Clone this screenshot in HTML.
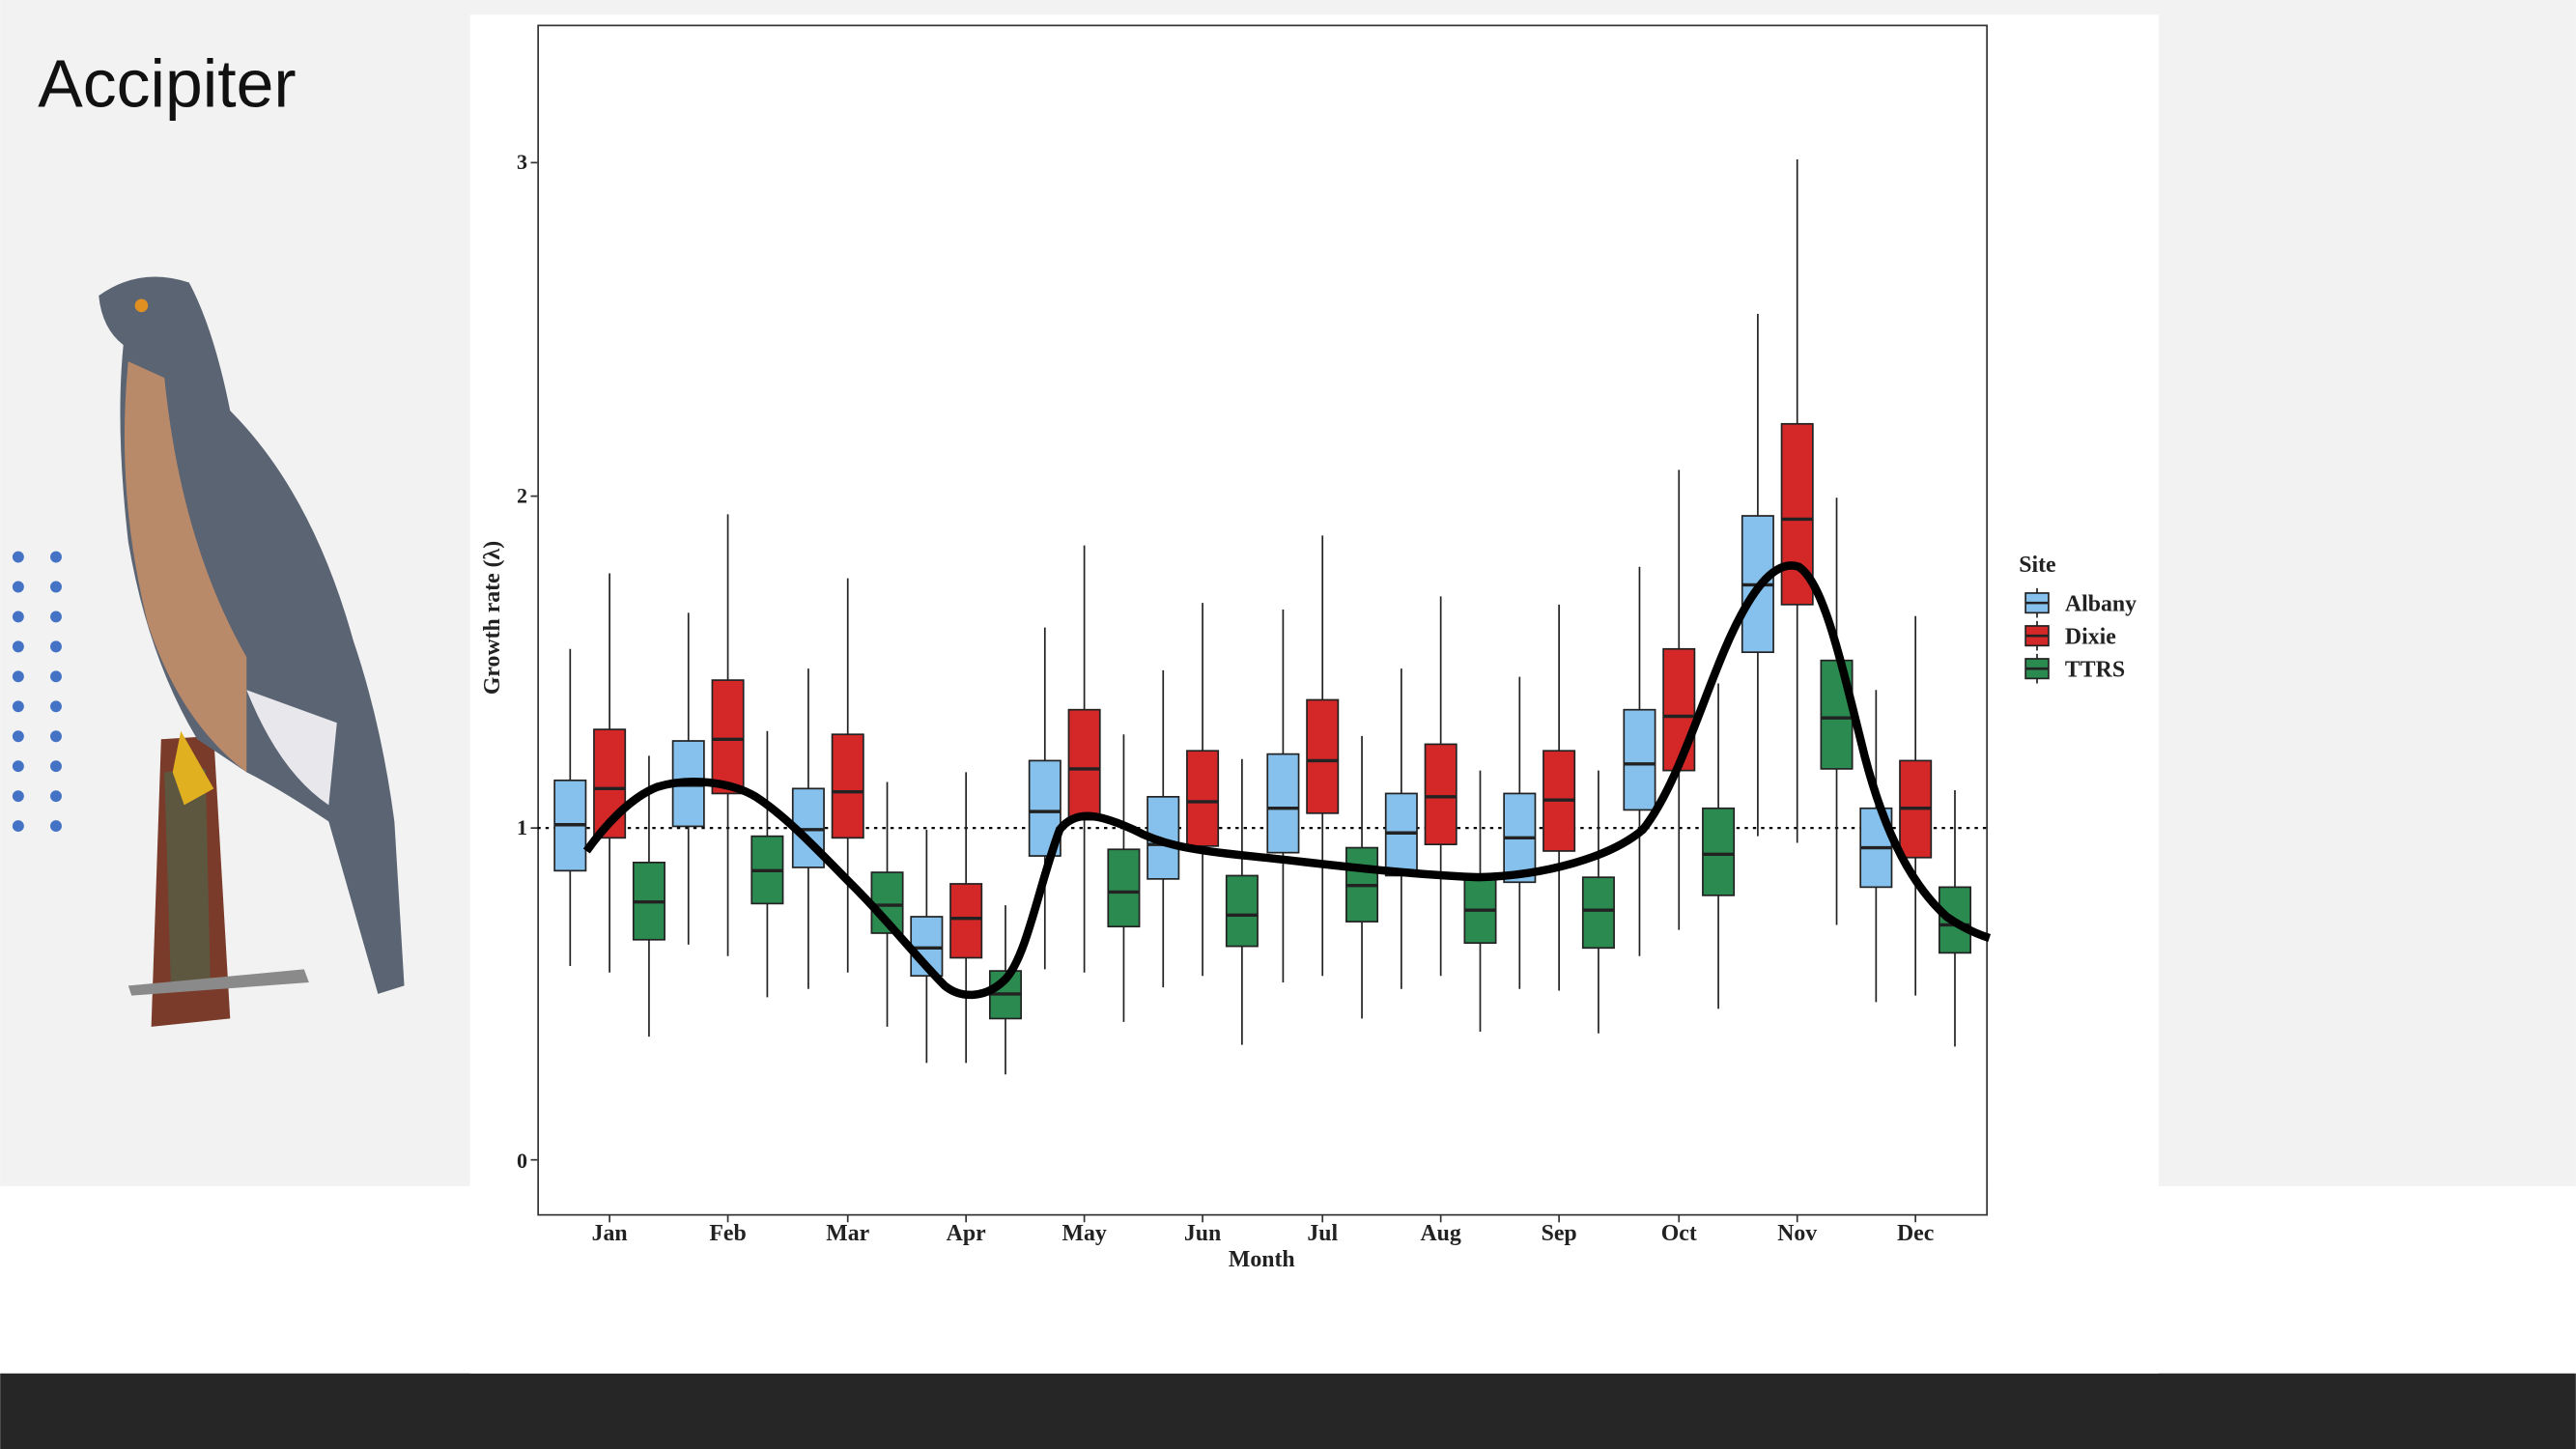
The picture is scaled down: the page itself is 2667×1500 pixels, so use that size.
<!DOCTYPE html>
<html><head><meta charset="utf-8"><style>
html,body{margin:0;padding:0;background:#fff}
svg{display:block}
</style></head><body>
<svg id="s" width="2667" height="1500" viewBox="0 0 1568 882" xmlns="http://www.w3.org/2000/svg">
<rect x="0" y="0" width="1568" height="722" fill="#f2f2f2"/>
<rect x="0" y="722" width="1568" height="114" fill="#fff"/>
<rect x="0" y="836" width="1568" height="46" fill="#262626"/>
<rect x="286" y="9" width="1028" height="713" fill="#fff"/>
<rect x="286" y="722" width="1028" height="114" fill="#fff"/>
<text x="23" y="65" font-family="Liberation Sans, sans-serif" font-size="41" fill="#111">Accipiter</text>
<g fill="#4472c4" id="dots"></g>
<!-- bird approx -->
<g>
<path d="M98,450 L130,448 L140,620 L92,625 Z" fill="#7a3b2a"/>
<path d="M100,470 L125,468 L128,600 L104,602 Z" fill="#4a6b50" opacity="0.6"/>
<path d="M78,600 L185,590 L188,598 L80,606 Z" fill="#8a8a8a"/>
<path d="M60,180 Q85,162 115,172 Q130,200 140,250 Q190,300 215,390 Q232,440 240,500 L246,600 L230,605 L200,500 Q170,480 150,470 L120,450 Q90,400 78,330 Q70,260 75,210 Q62,200 60,180 Z" fill="#5b6473"/>
<path d="M78,220 Q70,300 90,380 Q110,440 150,470 L150,400 Q110,330 100,230 Z" fill="#b98a6a"/>
<path d="M150,420 Q170,470 200,490 L205,440 Z" fill="#e8e8ec"/>
<path d="M110,445 L130,480 L112,490 L105,470 Z" fill="#e0b020"/>
<circle cx="86" cy="186" r="4" fill="#e09020"/>
</g>
<!-- plot frame -->
<rect x="327.5" y="15.5" width="882" height="724" fill="#fff" stroke="#333" stroke-width="1"/>
<line x1="327" y1="504" x2="1209" y2="504" stroke="#000" stroke-width="1.3" stroke-dasharray="2,3"/>
<g font-family="Liberation Serif, serif" font-weight="bold" font-size="13" fill="#222">
<text x="321" y="103" text-anchor="end">3</text>
<text x="321" y="306" text-anchor="end">2</text>
<text x="321" y="508" text-anchor="end">1</text>
<text x="321" y="711" text-anchor="end">0</text>
<g text-anchor="middle" font-size="14">
<text x="371" y="755">Jan</text><text x="443" y="755">Feb</text><text x="516" y="755">Mar</text>
<text x="588" y="755">Apr</text><text x="660" y="755">May</text><text x="732" y="755">Jun</text>
<text x="805" y="755">Jul</text><text x="877" y="755">Aug</text><text x="949" y="755">Sep</text>
<text x="1022" y="755">Oct</text><text x="1094" y="755">Nov</text><text x="1166" y="755">Dec</text>
<text x="768" y="771">Month</text>
</g>
<text transform="translate(304,376) rotate(-90)" text-anchor="middle" font-size="14">Growth rate (λ)</text>
<text x="1229" y="348" font-size="14">Site</text>
<text x="1257" y="372" font-size="14">Albany</text>
<text x="1257" y="392" font-size="14">Dixie</text>
<text x="1257" y="412" font-size="14">TTRS</text>
</g>
<g id="ticks" stroke="#333"></g>
<g id="boxes"></g>
<path d="M357,518 C370,500 385,485 400,479 C420,473 445,476 460,485 C480,498 500,520 520,540 C540,560 560,585 575,600 C585,608 600,608 612,596 C625,582 632,540 645,505 C655,492 670,496 690,505 C705,513 720,517 760,521 C800,525 850,532 900,534 C940,533 980,522 1000,505 C1020,480 1035,430 1050,395 C1065,360 1080,340 1095,345 C1110,355 1120,400 1135,460 C1148,510 1165,540 1185,558 C1195,565 1205,569 1211,571" fill="none" stroke="#000" stroke-width="5"/>
</svg>
<script>
var NS="http://www.w3.org/2000/svg",s=document.getElementById('s');
function el(p,t,a){var e=document.createElementNS(NS,t);for(var k in a)e.setAttribute(k,a[k]);p.appendChild(e);return e;}
var dots=document.getElementById('dots');
for(var r=0;r<10;r++)for(var c=0;c<2;c++)el(dots,'circle',{cx:11+c*23,cy:339+r*18.2,r:3.5});
var tk=document.getElementById('ticks');
[99,302,504,706].forEach(function(y){el(tk,'line',{x1:323,x2:327,y1:y,y2:y});});
[371,443,516,588,660,732,805,877,949,1022,1094,1166].forEach(function(x){el(tk,'line',{x1:x,x2:x,y1:740,y2:744});});
var cols=['#85c1ec','#d42828','#2b8a50'];
var D=[
[[588,530,502,475,395],[592,510,480,444,349],[631,572,549,525,460]],
[[575,503,478,451,373],[582,483,450,414,313],[607,550,530,509,445]],
[[602,528,505,480,407],[592,510,482,447,352],[625,568,551,531,476]],
[[647,594,577,558,505],[647,583,559,538,470],[654,620,605,591,551]],
[[590,521,494,463,382],[592,499,468,432,332],[622,564,543,517,447]],
[[601,535,514,485,408],[594,515,488,457,367],[636,576,557,533,462]],
[[598,519,492,459,371],[594,495,463,426,326],[620,561,539,516,448]],
[[602,533,507,483,407],[594,514,485,453,363],[628,574,554,532,469]],
[[602,537,510,483,412],[603,518,487,457,368],[629,577,554,534,469]],
[[582,493,465,432,345],[566,469,436,395,286],[614,545,520,492,416]],
[[509,397,356,314,191],[513,368,316,258,97],[563,468,437,402,303]],
[[610,540,516,492,420],[606,522,492,463,375],[637,580,563,540,481]]];
var bx=document.getElementById('boxes');
var cx=[371,443,516,588,660,732,805,877,949,1022,1094,1166];
D.forEach(function(m,i){m.forEach(function(b,j){var x=cx[i]+(j-1)*24;
el(bx,'line',{x1:x,x2:x,y1:b[0],y2:b[4],stroke:'#222','stroke-width':1});
el(bx,'rect',{x:x-9.5,y:b[3],width:19,height:b[1]-b[3],fill:cols[j],stroke:'#222','stroke-width':1});
el(bx,'line',{x1:x-9.5,x2:x+9.5,y1:b[2],y2:b[2],stroke:'#222','stroke-width':2});});});
[367,387,407].forEach(function(y,j){el(bx,'line',{x1:1240,x2:1240,y1:y-9,y2:y+9,stroke:'#222'});
el(bx,'rect',{x:1233,y:y-6,width:14,height:12,fill:cols[j],stroke:'#222'});
el(bx,'line',{x1:1233,x2:1247,y1:y,y2:y,stroke:'#222','stroke-width':1.5});});
</script>
</body></html>
